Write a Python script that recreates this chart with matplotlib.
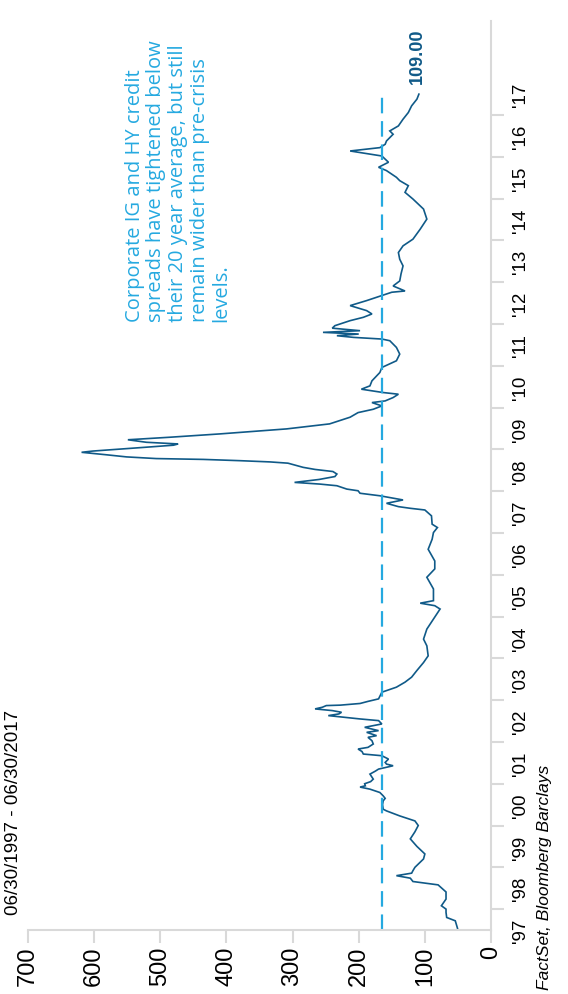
import matplotlib
matplotlib.use("Agg")
import matplotlib.pyplot as plt

# decimal year / spread (bps)
dates = [
    1997.50, 1997.56, 1997.72, 1997.80, 1997.92, 1998.00, 1998.08, 1998.24, 1998.41, 1998.58,
    1998.66, 1998.74, 1998.80, 1998.86, 1998.92, 1999.00, 1999.20, 1999.32, 1999.50, 1999.68,
    1999.85, 2000.00, 2000.11, 2000.23, 2000.35, 2000.39, 2000.50, 2000.59, 2000.65, 2000.71,
    2000.79, 2000.87, 2000.92, 2000.95, 2001.00, 2001.05, 2001.11, 2001.23, 2001.30, 2001.35,
    2001.43, 2001.47, 2001.51, 2001.59, 2001.67, 2001.71, 2001.77, 2001.83, 2001.87, 2001.95,
    2002.03, 2002.11, 2002.15, 2002.23, 2002.27, 2002.35, 2002.43, 2002.51, 2002.55, 2002.60,
    2002.63, 2002.67, 2002.71, 2002.75, 2002.79, 2002.83, 2002.87, 2002.88, 2002.92, 2002.97,
    2003.03, 2003.19, 2003.31, 2003.43, 2003.55, 2003.71, 2003.90, 2004.06, 2004.30, 2004.46,
    2004.70, 2004.94, 2005.18, 2005.26, 2005.32, 2005.38, 2005.66, 2005.94, 2006.14, 2006.33,
    2006.61, 2006.85, 2007.01, 2007.13, 2007.21, 2007.41, 2007.55, 2007.59, 2007.63, 2007.71,
    2007.79, 2007.89, 2007.95, 2008.01, 2008.05, 2008.13, 2008.17, 2008.21, 2008.28, 2008.35,
    2008.41, 2008.47, 2008.52, 2008.57, 2008.67, 2008.70, 2008.73, 2008.76, 2008.78, 2008.82,
    2008.87, 2008.93, 2008.96, 2009.00, 2009.05, 2009.10, 2009.13, 2009.17, 2009.23, 2009.29,
    2009.37, 2009.49, 2009.61, 2009.77, 2009.88, 2009.96, 2010.04, 2010.12, 2010.16, 2010.24,
    2010.32, 2010.36, 2010.44, 2010.52, 2010.64, 2010.84, 2010.96, 2011.12, 2011.28, 2011.44,
    2011.60, 2011.64, 2011.68, 2011.72, 2011.76, 2011.80, 2011.84, 2011.90, 2011.96, 2012.08,
    2012.16, 2012.24, 2012.32, 2012.44, 2012.56, 2012.68, 2012.76, 2012.79, 2012.91, 2013.03,
    2013.20, 2013.39, 2013.55, 2013.71, 2013.87, 2014.03, 2014.27, 2014.51, 2014.75, 2014.99,
    2015.15, 2015.31, 2015.43, 2015.51, 2015.67, 2015.75, 2015.87, 2016.02, 2016.14, 2016.22,
    2016.30, 2016.38, 2016.54, 2016.62, 2016.74, 2016.90, 2017.06, 2017.22, 2017.38, 2017.50,
]
spreads = [
    50, 51, 54, 67, 68, 68, 75, 68, 68, 80,
    118, 122, 143, 120, 118, 115, 102, 100, 112, 122,
    115, 110, 115, 138, 158, 163, 164, 163, 160, 163,
    168, 183, 198, 190, 191, 182, 178, 183, 175, 170,
    148, 158, 160, 155, 165, 193, 195, 201, 186, 178,
    180, 186, 173, 188, 170, 191, 165, 170, 198, 228,
    246, 230, 226, 240, 266, 255, 249, 228, 198, 186,
    170, 165, 143, 130, 120, 112, 102, 95, 97, 102,
    97, 87, 77, 85, 107, 87, 87, 97, 85, 85,
    95, 89, 87, 81, 89, 90, 100, 122, 140, 158,
    133, 168, 198, 201, 218, 233, 259, 297, 260, 236,
    233, 239, 266, 284, 307, 334, 380, 435, 506, 551,
    581, 619, 602, 566, 523, 480, 473, 521, 549, 486,
    410, 309, 244, 213, 201, 178, 165, 180, 160, 148,
    140, 163, 196, 183, 180, 168, 165, 143, 138, 143,
    153, 165, 208, 233, 200, 254, 198, 240, 236, 213,
    193, 180, 188, 213, 188, 165, 150, 130, 148, 138,
    136, 133, 138, 140, 133, 118, 107, 97, 102, 118,
    130, 125, 138, 143, 158, 170, 155, 165, 213, 168,
    160, 158, 148, 153, 140, 133, 125, 120, 112, 109,
]
avg_20y = 165
value_ticks = [0, 100, 200, 300, 400, 500, 600, 700]
year_bounds = list(range(1998, 2018))
year_mids = [y + 0.5 for y in range(1997, 2018)]
year_labels = ["'%02d" % (y % 100) for y in range(1997, 2018)]

W, H = 568, 995
LINE = "#105a88"
DASH = "#25a9e0"
GRID = "#d9d9d9"
ARIAL = ["Liberation Sans", "DejaVu Sans"]

fig = plt.figure(figsize=(W / 100, H / 100), dpi=100)
ax = fig.add_axes([28 / W, 1 - 931 / H, (491 - 28) / W, (931 - 22) / H])

# chart is drawn turned on its side: values run right-to-left, time runs upward
ax.plot(spreads, dates, color=LINE, lw=1.2, solid_joinstyle="miter")
ax.vlines(avg_20y, dates[0], dates[-1], colors=DASH, lw=1.6, linestyles=(0, (7, 3.5)))

ax.set_xlim(700, 0)
ax.set_ylim(1997.5, 2019.25)

for s in ("left", "top"):
    ax.spines[s].set_visible(False)
for s in ("right", "bottom"):
    ax.spines[s].set_color(GRID)
    ax.spines[s].set_linewidth(1.5)

ax.set_xticks(value_ticks)
ax.set_xticklabels([str(v) for v in value_ticks], rotation=90, fontsize=17, family=ARIAL)
ax.tick_params(axis="x", length=9, width=1.5, color=GRID, pad=2)

ax.yaxis.tick_right()
ax.set_yticks(year_bounds)
ax.set_yticklabels([])
ax.set_yticks(year_mids, minor=True)
ax.set_yticklabels(year_labels, minor=True, rotation=90, fontsize=13.5, family=ARIAL,
                   va="center")
ax.tick_params(axis="y", which="major", length=9, width=1.5, color=GRID)
ax.tick_params(axis="y", which="minor", length=0, pad=15)

ax.annotate("%.2f" % spreads[-1], (spreads[-1], dates[-1]), xytext=(-1, 8),
            textcoords="offset points", rotation=90, ha="center", va="bottom",
            fontsize=13, fontweight="bold", color=LINE, family=ARIAL)

fig.text(5 / W, 1 - 915 / H, "06/30/1997 - 06/30/2017", rotation=90, ha="left",
         va="bottom", fontsize=13.5, family=ARIAL)
fig.text(537 / W, 1 - 990 / H, "FactSet, Bloomberg Barclays", rotation=90, ha="left",
         va="bottom", fontsize=12.5, style="italic", family=ARIAL)
fig.text(125 / W, 1 - 322 / H,
         "Corporate IG and HY credit\nspreads have tightened below\n"
         "their 20 year average, but still\nremain wider than pre-crisis\nlevels.",
         rotation=90, ha="left", va="bottom", fontsize=14.5, color=DASH,
         family=["Open Sans", "DejaVu Sans"], linespacing=1.1)

fig.savefig("out.png", dpi=100)
